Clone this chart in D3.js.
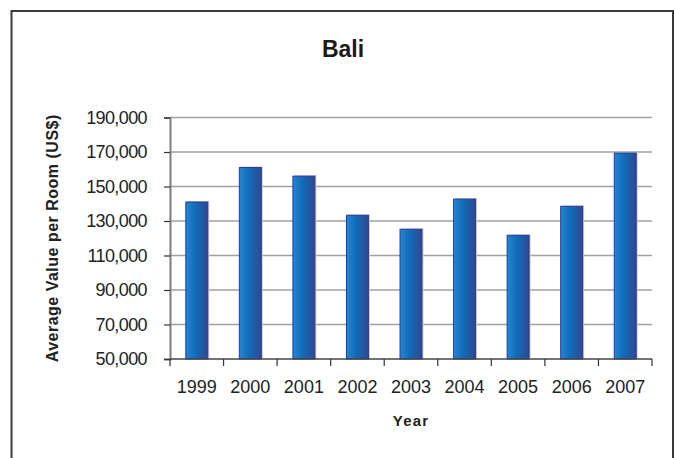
<!DOCTYPE html>
<html>
<head>
<meta charset="utf-8">
<script src="https://cdn.jsdelivr.net/npm/d3@7"></script>
<style>
  html, body { margin: 0; padding: 0; background: #fff; }
  svg { display: block; font-family: "Liberation Sans", Arial, sans-serif; }
</style>
</head>
<body>
<svg id="chart" width="675" height="458"></svg>
<script>
// Average value per hotel room in Bali, by year (US$)
const years = ["1999", "2000", "2001", "2002", "2003", "2004", "2005", "2006", "2007"];
const values = [141000, 161000, 156000, 133300, 125200, 142700, 121700, 138500, 169400];
const yTicks = [50000, 70000, 90000, 110000, 130000, 150000, 170000, 190000];

const chartTitle = "Bali";
const xTitle = "Year";
const yTitle = "Average Value per Room (US$)";

const svg = d3.select("#chart");
const plot = { left: 170, right: 652, top: 117.5, bottom: 359 };

// Outer frame
svg.append("rect")
  .attr("x", 11.5).attr("y", 11)
  .attr("width", 661.5).attr("height", 470)
  .attr("fill", "none").attr("stroke", "#3a3a3a").attr("stroke-width", 2);

const x = d3.scaleBand()
  .domain(years)
  .range([plot.left, plot.right])
  .paddingInner(0.59)
  .paddingOuter(0.295);

const y = d3.scaleLinear()
  .domain([50000, 190000])
  .range([plot.bottom, plot.top]);

// Bar gradient
const defs = svg.append("defs");
const grad = defs.append("linearGradient")
  .attr("id", "barGrad").attr("x1", "0").attr("x2", "1").attr("y1", "0").attr("y2", "0");
grad.append("stop").attr("offset", "0").attr("stop-color", "#2d84cb");
grad.append("stop").attr("offset", "0.4").attr("stop-color", "#0f6ebc");
grad.append("stop").attr("offset", "1").attr("stop-color", "#2c4a93");

// Horizontal gridlines
svg.append("g")
  .selectAll("line")
  .data(yTicks.slice(1))
  .join("line")
  .attr("x1", plot.left).attr("x2", plot.right)
  .attr("y1", d => y(d)).attr("y2", d => y(d))
  .attr("stroke", "#a0a0a0").attr("stroke-width", 1.5);

// Y axis
const yAxis = svg.append("g")
  .attr("transform", `translate(${plot.left},0)`)
  .call(d3.axisLeft(y).tickValues(yTicks).tickSize(6).tickPadding(17)
    .tickFormat(d3.format(",")));
yAxis.select(".domain").attr("stroke", "#7d7d7d").attr("stroke-width", 2);
yAxis.selectAll(".tick line").attr("stroke", "#333").attr("stroke-width", 1.2);
yAxis.selectAll(".tick text")
  .attr("font-size", 18).attr("fill", "#222")
  .attr("letter-spacing", -0.6)
  .attr("font-family", "'Liberation Sans', Arial, sans-serif");

// Bars: soft lavender edge, then gradient body with a navy outline
const bars = svg.append("g");
bars.selectAll("rect.shadow")
  .data(values)
  .join("rect")
  .attr("class", "shadow")
  .attr("x", (d, i) => x(years[i]) + 1.5)
  .attr("y", d => y(d) - 1)
  .attr("width", x.bandwidth())
  .attr("height", d => plot.bottom - y(d) + 1)
  .attr("fill", "#c9c8e6");
bars.selectAll("rect.bar")
  .data(values)
  .join("rect")
  .attr("class", "bar")
  .attr("x", (d, i) => x(years[i]))
  .attr("y", d => y(d))
  .attr("width", x.bandwidth())
  .attr("height", d => plot.bottom - y(d))
  .attr("fill", "url(#barGrad)")
  .attr("stroke", "#2e3a8e").attr("stroke-width", 1);

// X axis with ticks on category boundaries
const xAxisG = svg.append("g");
xAxisG.append("line")
  .attr("x1", plot.left).attr("x2", plot.right)
  .attr("y1", plot.bottom).attr("y2", plot.bottom)
  .attr("stroke", "#444").attr("stroke-width", 1.5);
const step = x.step();
const boundaries = d3.range(years.length + 1).map(i => plot.left + i * step);
xAxisG.selectAll("line.tick")
  .data(boundaries)
  .join("line")
  .attr("class", "tick")
  .attr("x1", d => d).attr("x2", d => d)
  .attr("y1", plot.bottom).attr("y2", plot.bottom + 7)
  .attr("stroke", "#333").attr("stroke-width", 1.2);
xAxisG.selectAll("text")
  .data(years)
  .join("text")
  .attr("x", d => x(d) + x.bandwidth() / 2)
  .attr("y", 393)
  .attr("text-anchor", "middle")
  .attr("font-size", 18).attr("fill", "#222")
  .text(d => d);

// Titles
svg.append("text")
  .attr("x", 343).attr("y", 57)
  .attr("text-anchor", "middle")
  .attr("font-size", 23).attr("font-weight", "bold").attr("fill", "#1a1a1a")
  .text(chartTitle);

svg.append("text")
  .attr("x", (plot.left + plot.right) / 2).attr("y", 426)
  .attr("text-anchor", "middle")
  .attr("font-size", 15).attr("font-weight", "bold").attr("fill", "#222")
  .attr("letter-spacing", 1.2)
  .text(xTitle);

svg.append("text")
  .attr("transform", `translate(58,${(plot.top + plot.bottom) / 2}) rotate(-90)`)
  .attr("text-anchor", "middle")
  .attr("font-size", 16).attr("font-weight", "bold").attr("fill", "#222")
  .attr("letter-spacing", 0.5)
  .text(yTitle);
</script>
</body>
</html>
